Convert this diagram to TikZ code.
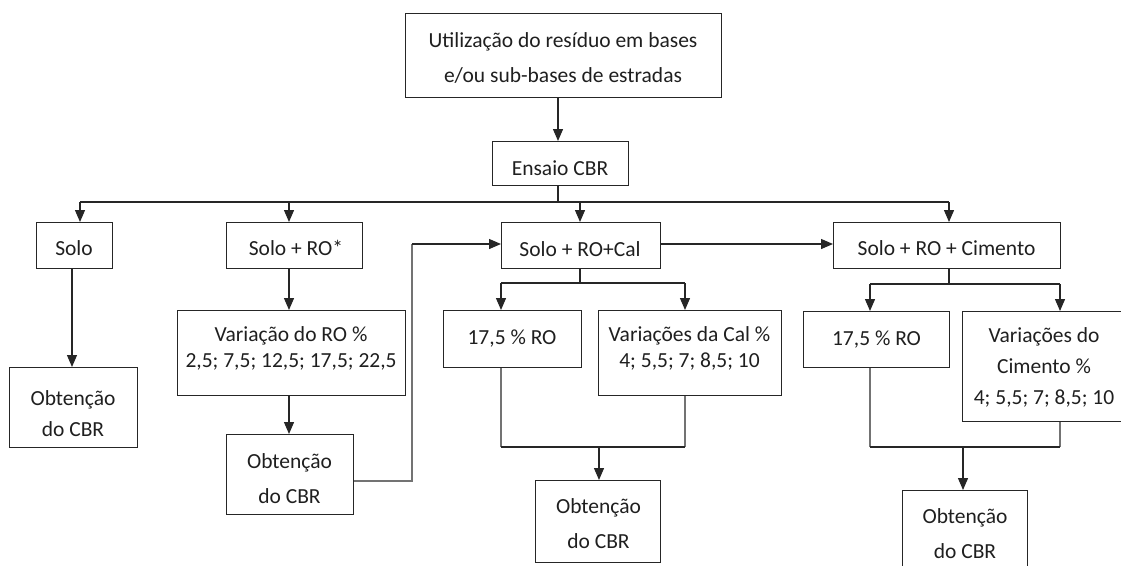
\documentclass[tikz,border=0pt]{standalone}
\usepackage{fontspec}
\setmainfont{Carlito}
\usetikzlibrary{arrows.meta}
\newcommand\ml[2]{{\fontsize{21.5}{#1}\selectfont\begin{tabular}[t]{@{}c@{}}#2\end{tabular}}}
\newcommand\bx[5]{\node[bx, minimum width={#4-#2}, minimum height={#5-#3}] (#1) at (#2,#3) {};}
\begin{document}
\begin{tikzpicture}[x=1pt, y=-1pt,
  bx/.style={draw=black!85, line width=1.3pt, inner sep=0pt, anchor=north west, fill=none},
  tx/.style={inner sep=0pt, anchor=base, text=black!88, font=\fontsize{21.5}{26}\selectfont},
  ln/.style={draw=black!85, line width=1.3pt},
  lg/.style={draw=black!55, line width=1.3pt},
  arr/.style={ln, -{Triangle[length=12pt,width=10pt]}}]
\useasboundingbox (0,0) rectangle (1121,565);
% boxes
\bx{top}{405}{13}{721}{97}
\bx{ens}{492}{141}{628}{185}
\bx{solo}{36}{222}{112}{268}
\bx{soloro}{226}{222}{362}{268}
\bx{cal}{501}{222}{660}{268}
\bx{cim}{833}{222}{1060}{268}
\bx{obtA}{9}{367}{137}{447}
\bx{varro}{177}{310}{405}{395}
\bx{obtB}{226}{434}{353}{514}
\bx{roA}{443}{310}{581}{367}
\bx{varcal}{598}{310}{781}{395}
\bx{obtC}{535}{480}{660}{562}
\bx{roB}{803}{311}{949}{367}
\bx{varcim}{962}{311}{1124}{421}
\bx{obtD}{902}{490}{1027}{600}
% texts
\node[tx] (tTop) at (563,47) {\ml{35}{Utilização do resíduo em bases\\e/ou sub-bases de estradas}};
\node[tx] (tEns) at (560,175) {Ensaio CBR};
\node[tx] (tSolo) at (74,255) {Solo};
\node[tx] (tSoloRO) at (296,255) {Solo + RO*};
\node[tx] (tCal) at (580,256) {Solo + RO+Cal};
\node[tx] (tCim) at (946.5,255) {Solo + RO + Cimento};
\node[tx] (tObtA) at (73,405.5) {\ml{30.5}{Obtenção\\do CBR}};
\node[tx] (tVarRO) at (291,341.5) {\ml{26}{Variação do RO \%\\2,5; 7,5; 12,5; 17,5; 22,5}};
\node[tx] (tObtB) at (289.5,468) {\ml{35}{Obtenção\\do CBR}};
\node[tx] (tRoA) at (512,344) {17,5 \% RO};
\node[tx] (tVarCal) at (689.5,341.5) {\ml{26}{Variações da Cal \%\\4; 5,5; 7; 8,5; 10}};
\node[tx] (tObtC) at (598.5,513) {\ml{35}{Obtenção\\do CBR}};
\node[tx] (tRoB) at (876.5,345) {17,5 \% RO};
\node[tx] (tVarCim) at (1044,342) {\ml{31}{Variações do\\Cimento \%\\4; 5,5; 7; 8,5; 10}};
\node[tx] (tObtD) at (965,523) {\ml{35}{Obtenção\\do CBR}};
% connector points
\coordinate (bE) at (558,202);
\coordinate (bL) at (80,202);
\coordinate (bRO) at (289,202);
\coordinate (bCal) at (580,202);
\coordinate (bR) at (949,202);
\coordinate (xS) at (72,0);
\coordinate (k1) at (412,481);
\coordinate (k2) at (412,244);
\coordinate (c0) at (580,283);
\coordinate (cL) at (501,283);
\coordinate (cR) at (685,283);
\coordinate (mL) at (501,447);
\coordinate (mR) at (685,447);
\coordinate (mC) at (599,447);
\coordinate (d0) at (949,284);
\coordinate (dL) at (870,284);
\coordinate (dR) at (1060,284);
\coordinate (nL) at (870,447);
\coordinate (nR) at (1060,447);
\coordinate (nC) at (963,447);
% connectors
\draw[arr] (top.south -| bE) -- (ens.north -| bE);
\draw[ln] (ens.south -| bE) -- (bE);
\draw[ln] (bL) -- (bR);
\draw[arr] (bL) -- (solo.north -| bL);
\draw[arr] (bRO) -- (soloro.north -| bRO);
\draw[arr] (bCal) -- (cal.north -| bCal);
\draw[arr] (bR) -- (cim.north -| bR);
\draw[arr] (solo.south -| xS) -- (obtA.north -| xS);
\draw[arr] (soloro.south -| bRO) -- (varro.north -| bRO);
\draw[arr] (varro.south -| bRO) -- (obtB.north -| bRO);
\draw[lg] (obtB.east |- k1) -- (k1) -- (k2);
\draw[arr] (k2) -- (cal.west |- k2);
\draw[arr] (cal.east |- k2) -- (cim.west |- k2);
\draw[ln] (cal.south -| c0) -- (c0);
\draw[ln] (cL) -- (cR);
\draw[arr] (cL) -- (roA.north -| cL);
\draw[arr] (cR) -- (varcal.north -| cR);
\draw[lg] (roA.south -| mL) -- (mL);
\draw[lg] (varcal.south -| mR) -- (mR);
\draw[ln] (mL) -- (mR);
\draw[arr] (mC) -- (obtC.north -| mC);
\draw[ln] (cim.south -| d0) -- (d0);
\draw[ln] (dL) -- (dR);
\draw[arr] (dL) -- (roB.north -| dL);
\draw[arr] (dR) -- (varcim.north -| dR);
\draw[lg] (roB.south -| nL) -- (nL);
\draw[lg] (varcim.south -| nR) -- (nR);
\draw[ln] (nL) -- (nR);
\draw[arr] (nC) -- (obtD.north -| nC);
\end{tikzpicture}
\end{document}
